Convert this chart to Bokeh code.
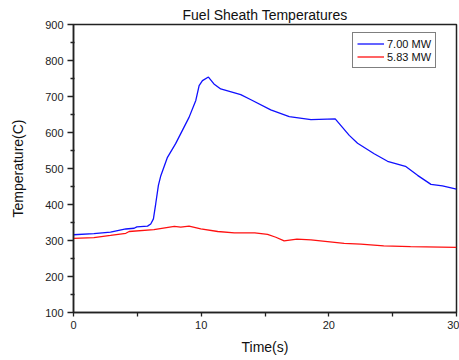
from bokeh.plotting import figure
from bokeh.models import Range1d, FixedTicker, Legend, LegendItem
from bokeh.embed import file_html
from bokeh.resources import INLINE

# 7.00 MW series
t_blue = [0, 1.6, 2.9, 4.1, 4.75, 4.96, 5.8, 6.05, 6.26, 6.44, 6.65, 6.84, 7.36, 8.0,
          8.66, 9.05, 9.58, 9.84, 10.1, 10.57, 11.0, 11.53, 13.1, 13.9, 15.45, 16.9,
          18.6, 20.5, 21.6, 22.25, 23.55, 24.6, 26.0, 26.95, 28.0, 28.9, 30.0]
temp_blue = [316, 319, 323, 332, 334, 338, 340, 346, 360, 402, 453, 480, 531, 569,
             615, 642, 689, 730, 744, 754, 735, 721, 705, 691, 663, 644,
             636, 638, 592, 570, 541, 520, 506, 481, 456, 452, 443]

# 5.83 MW series
t_red = [0, 1.6, 2.9, 4.1, 4.36, 6.3, 7.9, 8.4, 9.05, 9.97, 11.3, 12.6, 14.2, 15.2,
         15.85, 16.5, 17.5, 18.6, 19.9, 21.2, 22.5, 24.3, 26.4, 30.0]
temp_red = [306, 308, 314, 320, 325, 330, 339, 337, 340, 332, 325, 321, 321, 317,
            309, 299, 304, 302, 297, 292, 290, 285, 283, 281]

x_ticks = [0, 10, 20, 30]
y_ticks = [100, 200, 300, 400, 500, 600, 700, 800, 900]
labels = ["7.00 MW", "5.83 MW"]

FONT = "Liberation Sans"

p = figure(width=459, height=360, output_backend="svg", toolbar_location=None,
           x_range=Range1d(0, 30), y_range=Range1d(100, 900),
           title="Fuel Sheath Temperatures",
           min_border_left=73, min_border_right=3, min_border_top=24, min_border_bottom=48)
p.background_fill_color = "white"
p.border_fill_color = "white"
p.outline_line_color = "#222222"
p.outline_line_width = 1.5
p.grid.visible = False

p.title.align = "center"
p.title.text_font = FONT
p.title.text_font_size = "14px"
p.title.text_font_style = "normal"
p.title.text_color = "#111111"
p.title.standoff = 3

for ax in (p.xaxis[0], p.yaxis[0]):
    ax.axis_line_width = 1.5
    ax.axis_line_color = "#222222"
    ax.major_tick_line_color = "#222222"
    ax.minor_tick_line_color = "#222222"
    ax.major_tick_line_width = 1.3
    ax.minor_tick_line_width = 1.3
    ax.major_label_text_font = FONT
    ax.major_label_text_font_size = "11px"
    ax.major_label_text_color = "#222222"
    ax.axis_label_text_font = FONT
    ax.axis_label_text_font_size = "14px"
    ax.axis_label_text_font_style = "normal"
    ax.axis_label_text_color = "#111111"

p.xaxis.ticker = FixedTicker(ticks=x_ticks, minor_ticks=[5, 15, 25])
p.yaxis.ticker = FixedTicker(ticks=y_ticks, minor_ticks=[150, 250, 350, 450, 550, 650, 750, 850])
p.xaxis.major_tick_out = 4
p.xaxis.major_tick_in = 0
p.xaxis.minor_tick_out = 4
p.xaxis.minor_tick_in = 0
p.yaxis.major_tick_out = 6
p.yaxis.major_tick_in = 0
p.yaxis.minor_tick_out = 3
p.yaxis.minor_tick_in = 1
p.xaxis.major_label_standoff = 4
p.yaxis.major_label_standoff = 4
p.xaxis.axis_label = "Time(s)"
p.yaxis.axis_label = "Temperature(C)"
p.xaxis.axis_label_standoff = 7
p.yaxis.axis_label_standoff = 16

r1 = p.line(t_blue, temp_blue, line_color="#1010ff", line_width=1.3)
r2 = p.line(t_red, temp_red, line_color="#ff1010", line_width=1.3)

legend = Legend(items=[LegendItem(label=labels[0], renderers=[r1]),
                       LegendItem(label=labels[1], renderers=[r2])],
                location=(279, 244))
legend.border_line_color = "black"
legend.border_line_width = 1
legend.background_fill_alpha = 1
legend.padding = 4
legend.spacing = 0
legend.margin = 0
legend.glyph_width = 27
legend.glyph_height = 13
legend.label_height = 13
legend.label_standoff = 3
legend.label_text_font = FONT
legend.label_text_font_size = "11px"
legend.label_text_color = "#111111"
p.add_layout(legend, "center")

open("out.html", "w").write(file_html(p, INLINE))
